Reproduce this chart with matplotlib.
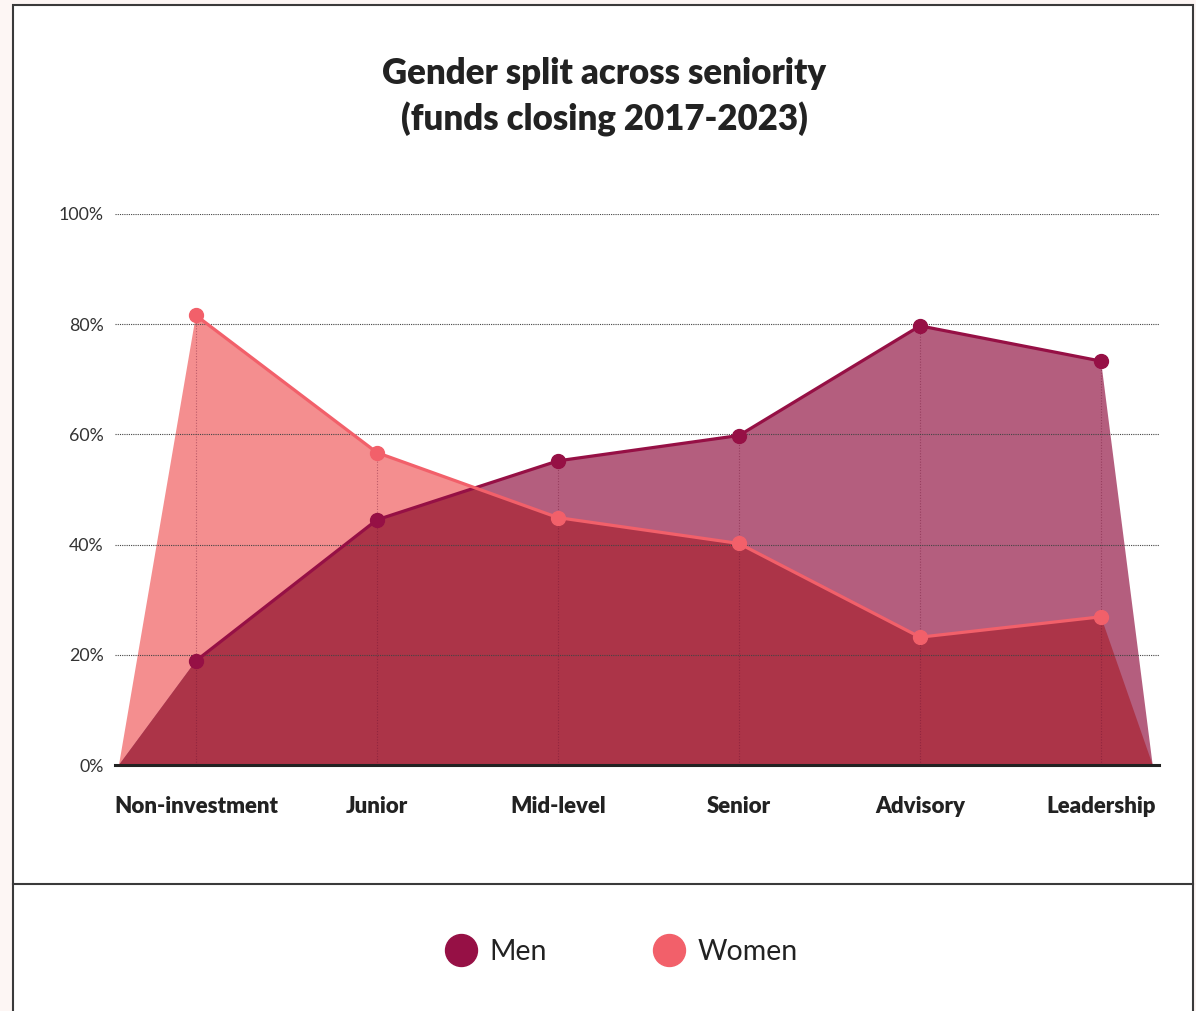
import matplotlib.pyplot as plt
from matplotlib.lines import Line2D
from matplotlib.patches import Rectangle

plt.rcParams['font.family'] = ['Lato', 'DejaVu Sans']

# data
categories = ['Non-investment', 'Junior', 'Mid-level', 'Senior', 'Advisory', 'Leadership']
men = [18.9, 44.5, 55.2, 59.8, 79.7, 73.3]
women = [81.6, 56.7, 44.9, 40.2, 23.2, 26.9]
yticks = [0, 20, 40, 60, 80, 100]

men_line = '#961045'
women_line = '#f2606a'
men_fill = '#b45e7e'
women_fill = '#f48e8f'
both_fill = '#ac3448'
text_col = '#222222'

W, H = 1196, 1011
fig = plt.figure(figsize=(W / 100, H / 100), dpi=100)

# page background and the framed card
fig.patches.append(Rectangle((0, 0), 1, 1, transform=fig.transFigure,
                             facecolor='#fdf6f4', edgecolor='none', zorder=-10))
fig.patches.append(Rectangle((13 / W, -0.05), (1193 - 13) / W, 1.05 - 5 / H,
                             transform=fig.transFigure, facecolor='white',
                             edgecolor='#3a3a3a', linewidth=1.5, zorder=-9))
fig.add_artist(Line2D([13 / W, 1193 / W], [1 - 884 / H, 1 - 884 / H],
                      transform=fig.transFigure, color='#3a3a3a', linewidth=1.5))

ax = fig.add_axes([115 / W, 1 - 765 / H, (1159 - 115) / W, (765 - 214) / H])
ax.set_facecolor('none')

x = list(range(len(categories)))
x0, x1 = -0.425, 5.285
xs = [x0] + x + [x1]

# areas overlap like a multiply blend: draw the shared part separately
women_poly = ax.fill(xs, [0] + women + [0], color=women_fill, linewidth=0, zorder=1)[0]
ax.fill(xs, [0] + men + [0], color=men_fill, linewidth=0, zorder=2)
shared = ax.fill(xs, [0] + men + [0], color=both_fill, linewidth=0, zorder=2.5)[0]
shared.set_clip_path(women_poly)

# faint category guides inside the areas
for i in x:
    ax.plot([i, i], [0, max(men[i], women[i])], color='#6a0f30', alpha=0.4,
            linewidth=0.8, linestyle=(0, (1, 1.5)), zorder=3)

for t in yticks[1:]:
    ax.axhline(t, color='#444444', linewidth=0.8, linestyle=(0, (1, 1)), zorder=4)

ax.plot(x, men, color=men_line, linewidth=2.3, marker='o', markersize=10,
        zorder=5, solid_joinstyle='round')
ax.plot(x, women, color=women_line, linewidth=2.3, marker='o', markersize=10,
        zorder=6, solid_joinstyle='round')

ax.set_xlim(-0.447, 5.32)
ax.set_ylim(0, 100)
for s in ['top', 'right', 'left']:
    ax.spines[s].set_visible(False)
ax.spines['bottom'].set_color('#222222')
ax.spines['bottom'].set_linewidth(2.2)
ax.spines['bottom'].set_zorder(7)

ax.set_yticks(yticks)
ax.set_yticklabels([f'{t}%' for t in yticks], fontsize=12.8, color='#333333')
ax.set_xticks(x)
ax.set_xticklabels(categories, fontsize=16, fontweight='heavy', color=text_col)
ax.tick_params(axis='y', length=0, pad=8)
ax.tick_params(axis='x', length=0, pad=22)

fig.text(604 / W, 1 - 97 / H, 'Gender split across seniority\n(funds closing 2017-2023)',
         ha='center', va='center', fontsize=25, fontweight='heavy', color=text_col,
         linespacing=1.38)

handles = [
    Line2D([], [], linestyle='none', marker='o', markersize=23, color=men_line, label='Men'),
    Line2D([], [], linestyle='none', marker='o', markersize=23, color=women_line, label='Women'),
]
fig.legend(handles=handles, loc='center', bbox_to_anchor=(615 / W, 1 - 952 / H),
           ncol=2, frameon=False, fontsize=20.5, handletextpad=0.0,
           columnspacing=3.3, labelcolor=text_col)

fig.savefig('out.png', dpi=100)
